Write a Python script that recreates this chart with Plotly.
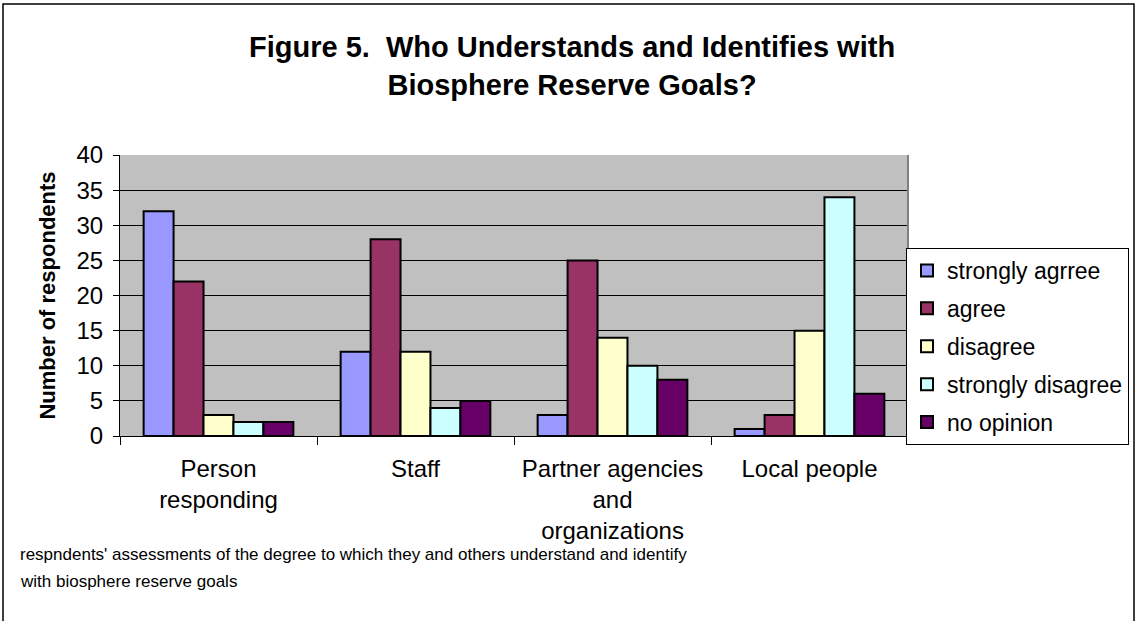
import plotly.graph_objects as go

categories = ["Person<br>responding", "Staff", "Partner agencies<br>and<br>organizations", "Local people"]
series_names = ["strongly agrree", "agree", "disagree", "strongly disagree", "no opinion"]
strongly_agree = [32, 12, 3, 1]
agree = [22, 28, 25, 3]
disagree = [3, 12, 14, 15]
strongly_disagree = [2, 4, 10, 34]
no_opinion = [2, 5, 8, 6]
series_values = [strongly_agree, agree, disagree, strongly_disagree, no_opinion]
colors = ["#9999FF", "#993366", "#FFFFCC", "#CCFFFF", "#660066"]
y_ticks = [0, 5, 10, 15, 20, 25, 30, 35, 40]

FONT = "Arial, Liberation Sans, sans-serif"
W, H = 1136, 621
L, T = 120, 155
PW, PH = 788, 281  # plot area size in px

fig = go.Figure()
for name, vals, col in zip(series_names, series_values, colors):
    fig.add_trace(go.Bar(
        x=categories, y=vals, name=name, legendgroup=name,
        marker=dict(color=col, line=dict(color="black", width=2)),
    ))

fig.update_layout(
    width=W, height=H,
    margin=dict(l=L, r=W - L - PW, t=T, b=H - T - PH, autoexpand=False),
    paper_bgcolor="white",
    plot_bgcolor="#C0C0C0",
    barmode="group",
    bargap=0.24,
    bargroupgap=0,
    font=dict(family=FONT, size=24, color="black"),
    legend=dict(
        xref="container", yref="container",
        x=906 / W, xanchor="left", y=1 - 248 / H, yanchor="top",
        bgcolor="white", bordercolor="black", borderwidth=1,
        font=dict(family=FONT, size=23),
        tracegroupgap=5, itemwidth=30,
    ),
    showlegend=True,
)

fig.update_xaxes(
    type="category", tickson="boundaries",
    ticks="outside", ticklen=8, tickcolor="black",
    showline=True, linecolor="black", linewidth=1,
    showgrid=False, tickfont=dict(size=24), ticklabelstandoff=11,
)
fig.update_yaxes(
    range=[0, 40], tickvals=y_ticks, ticks="outside", ticklen=6, tickcolor="black",
    showline=True, linecolor="black", linewidth=1,
    showgrid=True, gridcolor="black", gridwidth=1,
    zeroline=False, tickfont=dict(size=24), ticklabelstandoff=5,
    title=dict(text="<b>Number of respondents</b>", font=dict(size=22), standoff=14),
)

# title
fig.add_annotation(
    text="<b>Figure 5.  Who Understands and Identifies with<br>Biosphere Reserve Goals?</b>",
    xref="paper", yref="paper", x=(572 - L) / PW, y=1 + (T - 66) / PH,
    xanchor="center", yanchor="middle", align="center", showarrow=False,
    font=dict(family=FONT, size=29, color="black"),
)

# right border of plot area
fig.add_shape(type="line", xref="paper", yref="paper", x0=1, x1=1, y0=0, y1=1,
              line=dict(color="#808080", width=2))
# chart frame
fig.add_shape(type="rect", xref="paper", yref="paper",
              x0=-(L - 3) / PW, x1=(1134 - L) / PW, y0=-1, y1=1 + (T - 4) / PH,
              line=dict(color="black", width=1.5), layer="below")

fig.add_annotation(
    text="respndents' assessments of the degree to which they and others understand and identify",
    xref="paper", yref="paper", x=-(L - 18) / PW, y=-(554 - T - PH) / PH,
    xanchor="left", yanchor="middle", align="left", showarrow=False,
    font=dict(family=FONT, size=17, color="black"),
)
fig.add_annotation(
    text="with biosphere reserve goals",
    xref="paper", yref="paper", x=-(L - 18) / PW, y=-(581 - T - PH) / PH,
    xanchor="left", yanchor="middle", align="left", showarrow=False,
    font=dict(family=FONT, size=17, color="black"),
)

fig.write_html("out.html", config={"displayModeBar": False},
               post_script="document.body.style.margin='0px';")
